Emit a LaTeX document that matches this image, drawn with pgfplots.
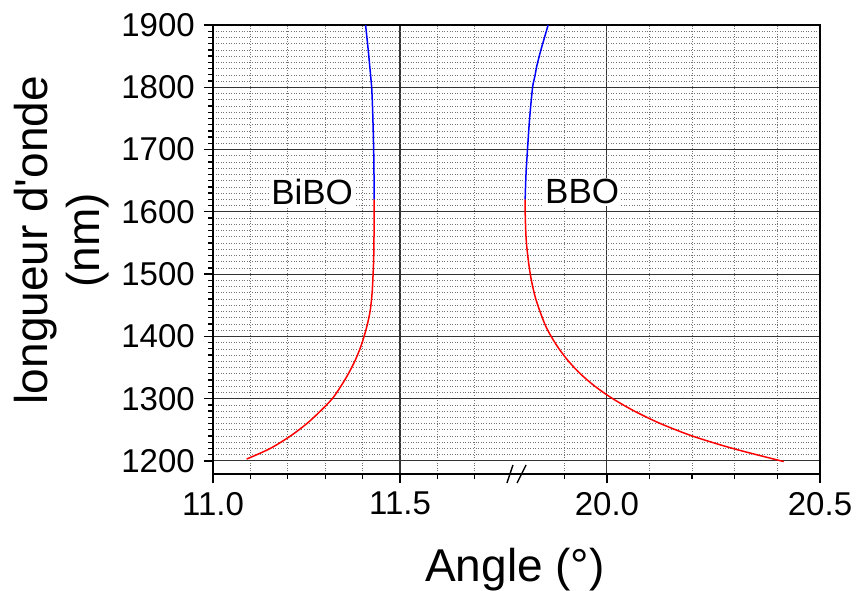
\documentclass[border=0pt]{standalone}
\usepackage{pgfplots}
\pgfplotsset{compat=1.18}
\usepackage{pgfplotstable}
\usepackage{fontspec}
\setmainfont{Liberation Sans}

% BiBO: angle (deg), wavelength (nm)
\pgfplotstableread{
x y
11.090 1203
11.153 1220
11.207 1240
11.251 1260
11.287 1280
11.319 1300
11.342 1320
11.362 1340
11.379 1360
11.393 1380
11.404 1400
11.413 1420
11.420 1440
11.424 1460
11.4265 1480
11.4294 1520
11.4305 1560
11.431 1600
11.431 1620
}\bibored
\pgfplotstableread{
x y
11.431 1620
11.4305 1660
11.4296 1700
11.427 1760
11.4243 1800
11.4216 1818
11.415 1860
11.408 1900
}\biboblue
% BBO: angle (deg), wavelength (nm)
\pgfplotstableread{
x y
20.415 1199
20.2955 1220
20.2005 1240
20.1255 1260
20.0645 1280
20.0135 1300
19.9715 1320
19.9375 1340
19.910 1360
19.8875 1380
19.869 1400
19.854 1420
19.833 1460
19.820 1500
19.811 1550
19.808 1600
19.808 1620
}\bbored
\pgfplotstableread{
x y
19.808 1620
19.810 1660
19.8135 1700
19.8185 1750
19.8255 1800
19.831 1818
19.835 1833
19.845 1860
19.862 1900
}\bboblue

\begin{document}
\begin{tikzpicture}
\path[use as bounding box] (-213pt,-116pt) rectangle (644pt,474pt);
\begin{axis}[
  scale only axis, width=607pt, height=449pt,
  xmin=11, xmax=12.623, ymin=1179, ymax=1900,
  axis line style={line width=1.6pt, black},
  xtick={11,11.5,12.0533,12.623},
  xticklabels={11.0,11.5,20.0,20.5},
  minor xtick={11.1,11.2,11.3,11.4,11.6,11.7,11.9394,12.1672,12.281,12.395,12.509},
  ytick={1200,1300,1400,1500,1600,1700,1800,1900},
  minor y tick num=9,
  tick align=outside,
  xtick pos=bottom, ytick pos=left,
  major tick length=9pt, minor tick length=5pt,
  every tick/.style={line width=1.3pt, black},
  grid=both,
  major grid style={black!80, line width=1.1pt, solid},
  minor grid style={black!55, line width=0.6pt, dash pattern=on 1pt off 1.6pt},
  /pgf/number format/assume math mode=true,
  /pgf/number format/1000 sep={},
  yticklabel style={font=\fontsize{33}{33}\selectfont, inner sep=0pt, anchor=east, xshift=-9pt},
  xticklabel style={font=\fontsize{33}{33}\selectfont, inner sep=0pt, anchor=north, yshift=-9pt},
  every axis x label/.style={at={(axis description cs:0.4975,-0.2405)}, anchor=base},
  every axis y label/.style={at={(axis description cs:-0.2496,0.521)}, anchor=center, rotate=90},
  xlabel={\fontsize{46}{50}\selectfont Angle (°)},
  ylabel={\fontsize{46}{52}\selectfont longueur d\textquotesingle onde\\(nm)},
  ylabel style={align=center, font=\fontsize{46}{52}\selectfont},
  clip=false,
]
\addplot[red, line width=1.5pt, no marks, smooth] table[x=x, y=y] {\bibored};
\addplot[blue, line width=1.5pt, no marks, smooth] table[x=x, y=y] {\biboblue};
\addplot[red, line width=1.5pt, no marks, smooth] table[x expr={11.813+(\thisrow{x}-19.789)*1.139}, y=y] {\bbored};
\addplot[blue, line width=1.5pt, no marks, smooth] table[x expr={11.813+(\thisrow{x}-19.789)*1.139}, y=y] {\bboblue};
\node[fill=white, inner sep=2pt, font=\fontsize{35}{35}\selectfont] at (axis cs:11.265,1632) {BiBO};
\node[fill=white, inner sep=2pt, font=\fontsize{35}{35}\selectfont] at (axis cs:11.987,1632) {BBO};
\draw[line width=1.4pt] (axis cs:11.786,1179) ++(0pt,-9pt) -- ++(6pt,18pt);
\draw[line width=1.4pt] (axis cs:11.813,1179) ++(0pt,-9pt) -- ++(9pt,18pt);
\end{axis}
\end{tikzpicture}
\end{document}
